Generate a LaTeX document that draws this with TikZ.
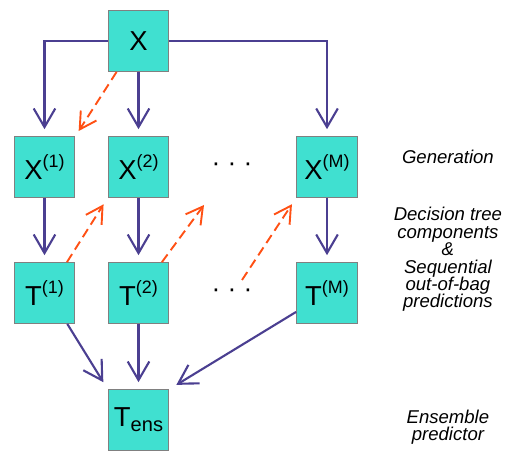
\documentclass[tikz,border=0pt]{standalone}
\usepackage{fontspec}
\setmainfont{Liberation Sans}
\usetikzlibrary{arrows.meta}
\definecolor{boxfill}{RGB}{64,224,208}
\definecolor{boxline}{RGB}{128,128,128}
\definecolor{flowblue}{RGB}{75,63,145}
\definecolor{oobred}{RGB}{255,80,20}
\newcommand{\upidx}[1]{\raisebox{12pt}{\fontsize{17}{17}\selectfont(#1)}}
\newcommand{\lowidx}[1]{\raisebox{-5pt}{\fontsize{19}{19}\selectfont #1}}
\begin{document}
\begin{tikzpicture}[every node/.style={rectangle}, text centered,
	model/.style={draw=boxline, fill=boxfill, line width=.9pt, minimum size=2.03cm, inner sep=0pt, font=\fontsize{26}{26}\selectfont},
	flow/.style={-{Straight Barb[length=.62cm,width=.72cm]}, draw=flowblue, line width=2pt, shorten >=.23cm},
	oob/.style={-{Straight Barb[length=.55cm,width=.62cm]}, draw=oobred, line width=1.8pt, dash pattern=on 9pt off 5pt},
	stage/.style={align=center, font=\fontsize{17.6}{16.5}\selectfont\itshape}]
	\useasboundingbox (0,0) rectangle (16.9,-15.233);
	\node[model] (x) at (4.617,-1.367) {X};
	\node[model] (x1) at (1.483,-5.567) {X\upidx{1}};
	\node[model] (x2) at (4.617,-5.567) {X\upidx{2}};
	\node[model] (xm) at (10.9,-5.567) {X\upidx{M}};
	\node[font=\fontsize{25}{25}\selectfont] (dotsx) at (7.733,-5.567) {\textperiodcentered\ \textperiodcentered\ \textperiodcentered};
	\node[model] (t1) at (1.483,-9.767) {T\upidx{1}};
	\node[model] (t2) at (4.617,-9.767) {T\upidx{2}};
	\node[model] (tm) at (10.9,-9.767) {T\upidx{M}};
	\node[font=\fontsize{25}{25}\selectfont] (dotst) at (7.733,-9.767) {\textperiodcentered\ \textperiodcentered\ \textperiodcentered};
	\node[model] (tens) at (4.617,-14.0) {T\lowidx{ens}};
	\node[stage] (generation) at (14.93,-5.233) {Generation};
	\node[stage] (components) at (14.93,-8.65) {Decision tree\\components\\\&\\Sequential\\out-of-bag\\predictions};
	\node[stage] (ensemble) at (14.93,-14.233) {Ensemble\\predictor};
	\coordinate (gapx) at (6.8,-6.833);
	\coordinate (gapt) at (8.067,-9.333);
	% generation
	\draw[flow] (x.west) -| (x1.north);
	\draw[flow] (x.south) -- (x2.north);
	\draw[flow] (x.east) -| (xm.north);
	% trees
	\draw[flow] (x1) -- (t1);
	\draw[flow] (x2) -- (t2);
	\draw[flow] (xm) -- (tm);
	% ensemble
	\draw[flow, shorten >=.27cm] ([xshift=-.27cm]t1.south east) -- (tens.north west);
	\draw[flow] (t2) -- (tens);
	\draw[flow, shorten >=.27cm] ([yshift=.4cm]tm.south west) -- (tens.north east);
	% out-of-bag
	\draw[oob, shorten >=.2cm] ([xshift=.3cm]x.south west) -- (x1.north east);
	\draw[oob, shorten >=.25cm] ([xshift=.75cm]t1.north) -- (x2.south west);
	\draw[oob] ([xshift=.78cm]t2.north) -- (gapx);
	\draw[oob, shorten >=.25cm] (gapt) -- (xm.south west);
\end{tikzpicture}
\end{document}
